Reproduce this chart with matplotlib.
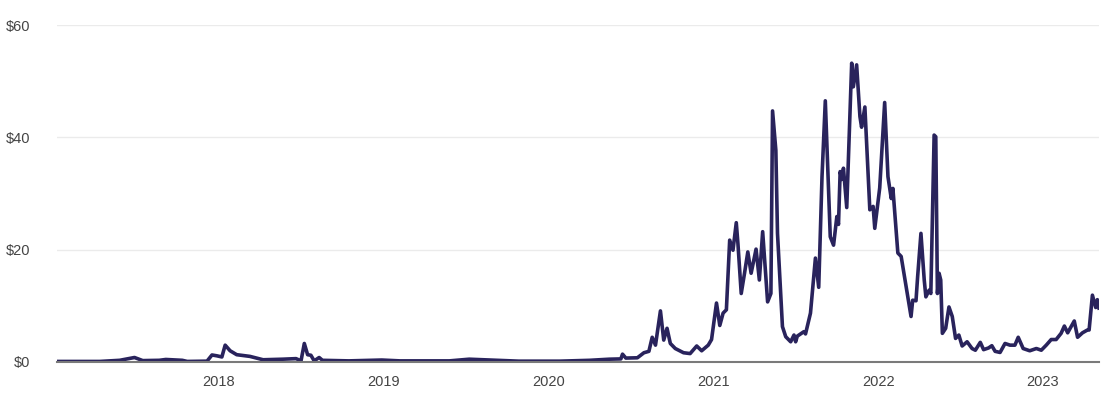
import matplotlib
matplotlib.use('Agg')
import matplotlib.pyplot as plt
import numpy as np

# decimal years and average fee in USD
years = [2017.02, 2017.28, 2017.40, 2017.49, 2017.54, 2017.64, 2017.68, 2017.78, 2017.81, 2017.93,
         2017.96, 2017.99, 2018.02, 2018.04, 2018.07, 2018.11, 2018.19, 2018.27, 2018.39, 2018.47,
         2018.50, 2018.52, 2018.54, 2018.56, 2018.58, 2018.61, 2018.63, 2018.79, 2018.99, 2019.10,
         2019.40, 2019.52, 2019.82, 2020.07, 2020.25, 2020.37, 2020.44, 2020.45, 2020.47, 2020.54,
         2020.58, 2020.61, 2020.63, 2020.65, 2020.68, 2020.70, 2020.72, 2020.74, 2020.77, 2020.82,
         2020.86, 2020.90, 2020.93, 2020.97, 2020.99, 2021.02, 2021.04, 2021.06, 2021.08, 2021.10,
         2021.12, 2021.14, 2021.15, 2021.17, 2021.19, 2021.21, 2021.23, 2021.26, 2021.28, 2021.30,
         2021.33, 2021.35, 2021.36, 2021.38, 2021.39, 2021.42, 2021.44, 2021.47, 2021.49, 2021.50,
         2021.51, 2021.55, 2021.56, 2021.59, 2021.62, 2021.64, 2021.66, 2021.68, 2021.71, 2021.73,
         2021.75, 2021.76, 2021.77, 2021.78, 2021.79, 2021.81, 2021.84, 2021.85, 2021.87, 2021.89,
         2021.90, 2021.92, 2021.95, 2021.97, 2021.98, 2022.01, 2022.04, 2022.06, 2022.08, 2022.09,
         2022.12, 2022.14, 2022.17, 2022.20, 2022.21, 2022.23, 2022.24, 2022.26, 2022.28, 2022.29,
         2022.31, 2022.32, 2022.34, 2022.35, 2022.36, 2022.37, 2022.38, 2022.39, 2022.41, 2022.43,
         2022.45, 2022.47, 2022.49, 2022.51, 2022.54, 2022.57, 2022.59, 2022.62, 2022.64, 2022.67,
         2022.69, 2022.71, 2022.74, 2022.77, 2022.80, 2022.83, 2022.85, 2022.88, 2022.92, 2022.96,
         2022.99, 2023.02, 2023.05, 2023.08, 2023.11, 2023.13, 2023.15, 2023.19, 2023.21, 2023.24,
         2023.27, 2023.28, 2023.30, 2023.32, 2023.33, 2023.34]
fees = [0.1, 0.1, 0.3, 0.8, 0.25, 0.3, 0.45, 0.3, 0.1, 0.15,
        1.25, 1.1, 0.9, 3.0, 2.0, 1.3, 1.0, 0.4, 0.5, 0.6,
        0.2, 3.3, 1.3, 1.2, 0.2, 0.8, 0.3, 0.2, 0.35, 0.2,
        0.2, 0.5, 0.15, 0.15, 0.3, 0.5, 0.55, 1.4, 0.7, 0.75,
        1.65, 1.9, 4.4, 3.0, 9.1, 3.9, 6.0, 3.3, 2.4, 1.65,
        1.5, 2.85, 2.0, 3.0, 4.0, 10.5, 6.5, 8.7, 9.3, 21.7,
        19.9, 24.8, 21.1, 12.2, 15.8, 19.6, 15.8, 20.1, 14.6, 23.2,
        10.7, 12.2, 44.7, 37.7, 22.9, 6.3, 4.5, 3.6, 4.8, 3.6,
        4.6, 5.4, 5.0, 8.7, 18.5, 13.3, 33.0, 46.5, 22.3, 20.8,
        25.9, 24.5, 33.9, 32.5, 34.5, 27.5, 53.2, 49.0, 52.9, 43.7,
        41.8, 45.4, 27.1, 27.7, 23.8, 31.0, 46.2, 33.0, 29.1, 30.9,
        19.4, 18.8, 13.4, 8.1, 11.0, 10.9, 15.2, 22.9, 14.6, 11.6,
        12.8, 12.2, 40.4, 40.1, 12.2, 15.8, 14.6, 5.1, 6.0, 9.8,
        8.1, 4.2, 4.8, 2.85, 3.6, 2.4, 2.1, 3.5, 2.2, 2.5,
        2.9, 1.9, 1.7, 3.3, 3.0, 3.0, 4.4, 2.4, 2.0, 2.4,
        2.1, 3.0, 4.0, 4.0, 5.1, 6.4, 5.2, 7.3, 4.4, 5.2,
        5.7, 5.7, 11.9, 9.7, 11.1, 9.6]
year_ticks = [2018, 2019, 2020, 2021, 2022, 2023]
fee_ticks = [0, 20, 40, 60]

plt.rcParams['font.family'] = ['Liberation Sans', 'DejaVu Sans']

fig = plt.figure(figsize=(11.09, 3.98), dpi=100)
ax = fig.add_axes([57 / 1109, 1 - 362 / 398, (1099 - 57) / 1109, (362 - 25) / 398])

ax.plot(years, fees, color='#29235c', lw=2.6, solid_joinstyle='round', zorder=3)

ax.set_xlim(2017.02, 2023.34)
ax.set_ylim(0, 60)
ax.set_xticks(year_ticks)
ax.set_xticklabels([str(y) for y in year_ticks])
ax.set_yticks(fee_ticks)
ax.set_yticklabels(['$' + str(v) for v in fee_ticks])
ax.tick_params(axis='both', length=0, labelsize=10.5, labelcolor='#444444')
ax.tick_params(axis='x', pad=9)
ax.tick_params(axis='y', pad=19)
ax.grid(axis='y', color='#ebebeb', lw=1)
ax.set_axisbelow(True)
for s in ['top', 'right', 'left']:
    ax.spines[s].set_visible(False)
ax.spines['bottom'].set_color('#7a7a7a')
ax.spines['bottom'].set_linewidth(1.5)
ax.spines['bottom'].set_zorder(4)

fig.savefig('out.png', dpi=100)
